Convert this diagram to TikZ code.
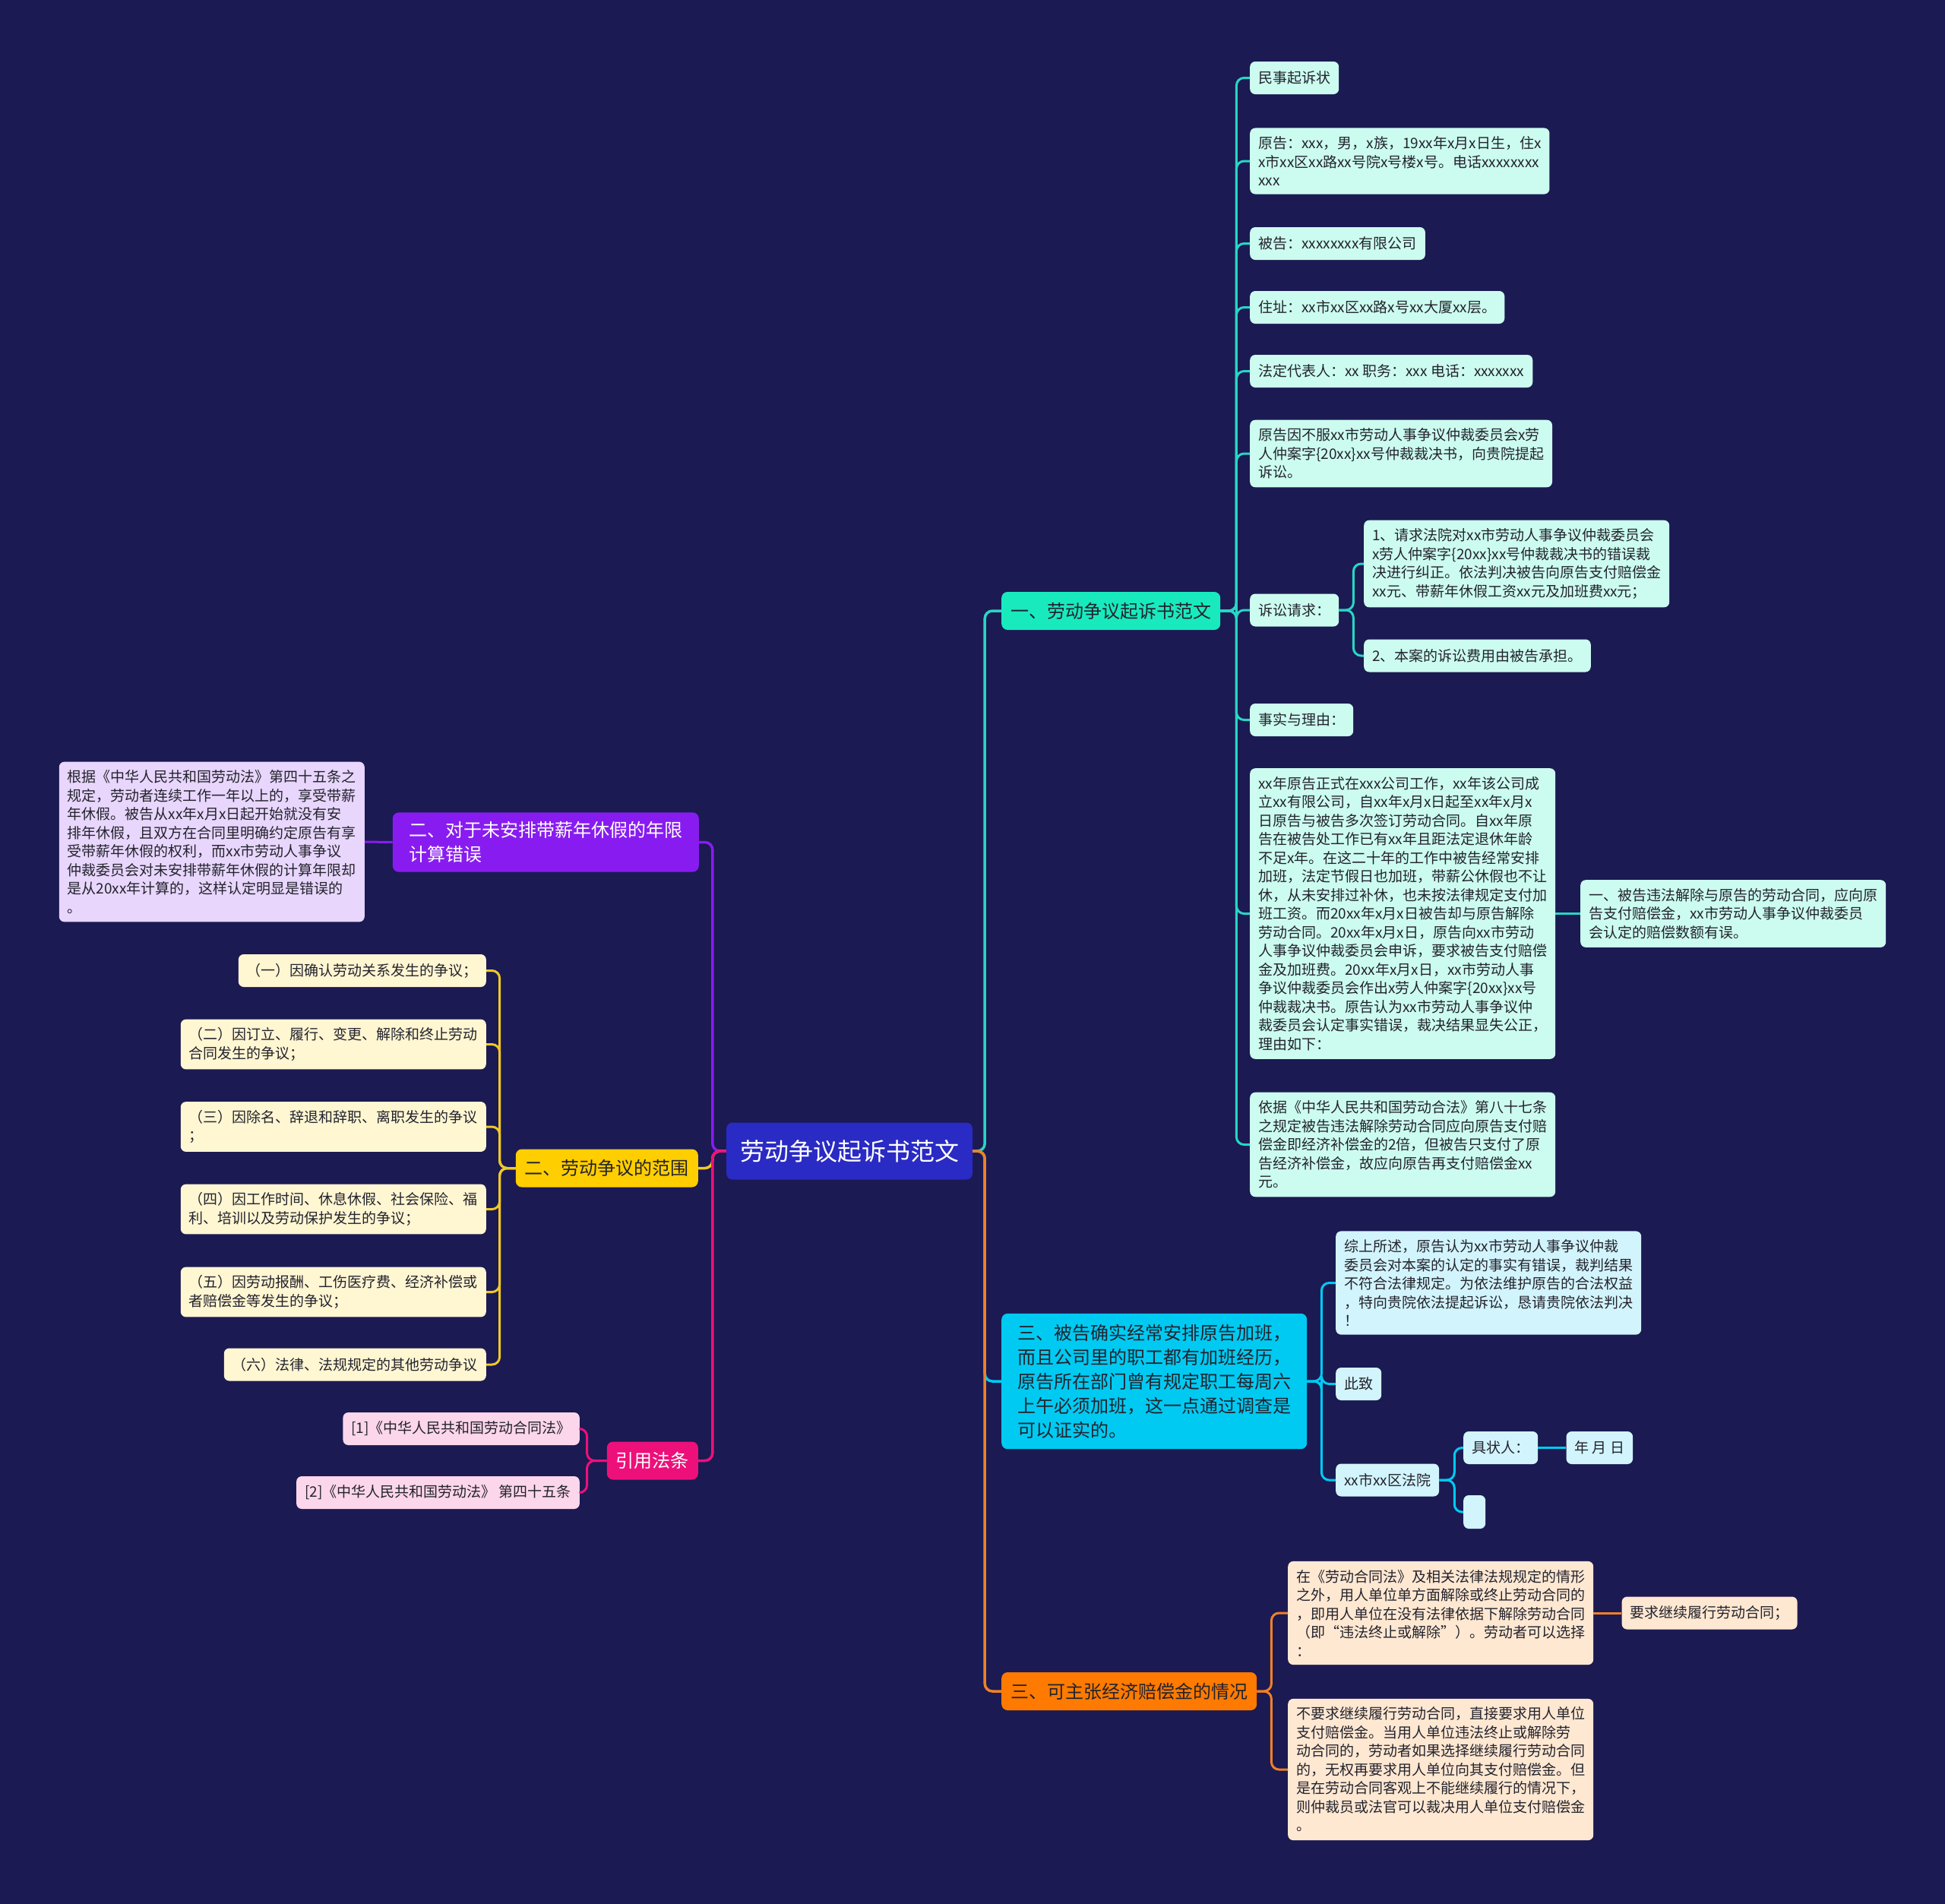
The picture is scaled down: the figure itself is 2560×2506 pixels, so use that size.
\documentclass[tikz,border=0pt]{standalone}
\usepackage{fontspec}
\setmainfont{Noto Sans CJK SC}
\usetikzlibrary{
  positioning,
  calc
}
\definecolor{lawNavy}{RGB}{27,26,82}
\definecolor{lawRoot}{RGB}{42,42,196}
\definecolor{lawInk}{RGB}{35,35,45}
\definecolor{lawTeal}{RGB}{24,234,190}
\definecolor{lawTealLine}{RGB}{40,214,196}
\definecolor{lawTealLight}{RGB}{204,252,240}
\definecolor{lawCyan}{RGB}{0,202,242}
\definecolor{lawCyanLight}{RGB}{210,244,252}
\definecolor{lawOrange}{RGB}{255,122,0}
\definecolor{lawOrangeLine}{RGB}{240,128,40}
\definecolor{lawOrangeLight}{RGB}{255,232,210}
\definecolor{lawPurple}{RGB}{136,28,240}
\definecolor{lawPurpleLight}{RGB}{232,214,252}
\definecolor{lawYellow}{RGB}{255,206,0}
\definecolor{lawYellowLine}{RGB}{240,200,40}
\definecolor{lawYellowLight}{RGB}{255,246,210}
\definecolor{lawPink}{RGB}{238,16,122}
\definecolor{lawPinkLight}{RGB}{252,214,234}
\tikzset{
  mmroot/.style={
    fill=lawRoot,
    text=white,
    rounded corners=8pt,
    minimum height=75pt,
    inner xsep=18pt,
    font=\fontsize{32}{40}\selectfont
  },
  mmbranch/.style={
    rounded corners=8pt,
    align=left,
    minimum height=50pt,
    inner xsep=12pt,
    inner ysep=12pt,
    text=lawInk,
    font=\fontsize{24}{32}\selectfont
  },
  mmleaf/.style={
    rounded corners=7pt,
    align=left,
    minimum height=43pt,
    inner xsep=11pt,
    inner ysep=11pt,
    text=lawInk,
    font=\fontsize{19}{24.5}\selectfont
  },
  tealleaf/.style={mmleaf, fill=lawTealLight, anchor=west},
  cyanleaf/.style={mmleaf, fill=lawCyanLight, anchor=west},
  orangeleaf/.style={mmleaf, fill=lawOrangeLight, anchor=west},
  purpleleaf/.style={mmleaf, fill=lawPurpleLight, anchor=east},
  yellowleaf/.style={mmleaf, fill=lawYellowLight, anchor=east},
  pinkleaf/.style={mmleaf, fill=lawPinkLight, anchor=east},
  mmlink/.style={
    line width=3pt,
    rounded corners=10pt
  }
}
\begin{document}
\begin{tikzpicture}[x=1pt, y=-1pt]
  \fill[lawNavy] (0,0) rectangle (2560,2506);
  \useasboundingbox (0,0) rectangle (2560,2506);

  \node[mmroot] (root) at (1118,1515) {劳动争议起诉书范文};

  % right side
  \node[mmbranch, fill=lawTeal, anchor=west] (suit) at (1318,804) {一、劳动争议起诉书范文};
  \node[mmbranch, fill=lawCyan, anchor=west, minimum width=402pt, inner ysep=14pt] (overtime) at (1318,1818)
    {三、被告确实经常安排原告加班，\\而且公司里的职工都有加班经历，\\原告所在部门曾有规定职工每周六\\上午必须加班，这一点通过调查是\\可以证实的。};
  \node[mmbranch, fill=lawOrange, anchor=west] (compensation) at (1318,2226) {三、可主张经济赔偿金的情况};

  \node[tealleaf] (title) at (1645,102.5) {民事起诉状};
  \node[tealleaf] (plaintiff) at (1645,212)
    {原告：xxx，男，x族，19xx年x月x日生，住x\\x市xx区xx路xx号院x号楼x号。电话xxxxxxxx\\xxx};
  \node[tealleaf] (defendant) at (1645,320.5) {被告：xxxxxxxx有限公司};
  \node[tealleaf] (address) at (1645,404.5) {住址：xx市xx区xx路x号xx大厦xx层。};
  \node[tealleaf] (legalrep) at (1645,488.5) {法定代表人：xx 职务：xxx 电话：xxxxxxx};
  \node[tealleaf] (appeal) at (1645,597)
    {原告因不服xx市劳动人事争议仲裁委员会x劳\\人仲案字\{20xx\}xx号仲裁裁决书，向贵院提起\\诉讼。};
  \node[tealleaf] (claims) at (1645,803) {诉讼请求：};
  \node[tealleaf] (claimone) at (1795,742)
    {1、请求法院对xx市劳动人事争议仲裁委员会\\x劳人仲案字\{20xx\}xx号仲裁裁决书的错误裁\\决进行纠正。依法判决被告向原告支付赔偿金\\xx元、带薪年休假工资xx元及加班费xx元；};
  \node[tealleaf] (claimtwo) at (1795,863) {2、本案的诉讼费用由被告承担。};
  \node[tealleaf] (facts) at (1645,947.5) {事实与理由：};
  \node[tealleaf] (history) at (1645,1202.5)
    {xx年原告正式在xxx公司工作，xx年该公司成\\立xx有限公司，自xx年x月x日起至xx年x月x\\日原告与被告多次签订劳动合同。自xx年原\\告在被告处工作已有xx年且距法定退休年龄\\不足x年。在这二十年的工作中被告经常安排\\加班，法定节假日也加班，带薪公休假也不让\\休，从未安排过补休，也未按法律规定支付加\\班工资。而20xx年x月x日被告却与原告解除\\劳动合同。20xx年x月x日，原告向xx市劳动\\人事争议仲裁委员会申诉，要求被告支付赔偿\\金及加班费。20xx年x月x日，xx市劳动人事\\争议仲裁委员会作出x劳人仲案字\{20xx\}xx号\\仲裁裁决书。原告认为xx市劳动人事争议仲\\裁委员会认定事实错误，裁决结果显失公正，\\理由如下：};
  \node[tealleaf] (dismissal) at (2080,1202.5)
    {一、被告违法解除与原告的劳动合同，应向原\\告支付赔偿金，xx市劳动人事争议仲裁委员\\会认定的赔偿数额有误。};
  \node[tealleaf] (basis) at (1645,1506.5)
    {依据《中华人民共和国劳动合法》第八十七条\\之规定被告违法解除劳动合同应向原告支付赔\\偿金即经济补偿金的2倍，但被告只支付了原\\告经济补偿金，故应向原告再支付赔偿金xx\\元。};

  \node[cyanleaf] (summary) at (1758,1688.5)
    {综上所述，原告认为xx市劳动人事争议仲裁\\委员会对本案的认定的事实有错误，裁判结果\\不符合法律规定。为依法维护原告的合法权益\\，特向贵院依法提起诉讼，恳请贵院依法判决\\！};
  \node[cyanleaf] (regards) at (1758,1821.5) {此致};
  \node[cyanleaf] (court) at (1758,1948) {xx市xx区法院};
  \node[cyanleaf] (signer) at (1926,1905.5) {具状人：};
  \node[cyanleaf, right=37pt of signer] (date) {年 月 日};
  \node[cyanleaf, minimum width=29pt, minimum height=44pt, inner sep=0pt] (blank) at (1926,1990) {};

  \node[orangeleaf] (unlawful) at (1695,2123)
    {在《劳动合同法》及相关法律法规规定的情形\\之外，用人单位单方面解除或终止劳动合同的\\，即用人单位在没有法律依据下解除劳动合同\\（即“违法终止或解除”）。劳动者可以选择\\：};
  \node[orangeleaf, right=37pt of unlawful] (continue) {要求继续履行劳动合同；};
  \node[orangeleaf] (payout) at (1695,2329)
    {不要求继续履行劳动合同，直接要求用人单位\\支付赔偿金。当用人单位违法终止或解除劳\\动合同的，劳动者如果选择继续履行劳动合同\\的，无权再要求用人单位向其支付赔偿金。但\\是在劳动合同客观上不能继续履行的情况下，\\则仲裁员或法官可以裁决用人单位支付赔偿金\\。};

  % left side
  \node[mmbranch, fill=lawPurple, text=white, anchor=east, minimum width=403pt] (leave) at (920,1108.5)
    {二、对于未安排带薪年休假的年限\\计算错误};
  \node[mmbranch, fill=lawYellow, anchor=east] (scope) at (919,1537.5) {二、劳动争议的范围};
  \node[mmbranch, fill=lawPink, text=white, anchor=east] (statutes) at (919,1922.5) {引用法条};

  \node[purpleleaf] (leavetext) at (480,1108)
    {根据《中华人民共和国劳动法》第四十五条之\\规定，劳动者连续工作一年以上的，享受带薪\\年休假。被告从xx年x月x日起开始就没有安\\排年休假，且双方在合同里明确约定原告有享\\受带薪年休假的权利，而xx市劳动人事争议\\仲裁委员会对未安排带薪年休假的计算年限却\\是从20xx年计算的，这样认定明显是错误的\\。};

  \node[yellowleaf] (scopeone) at (640,1277.5) {（一）因确认劳动关系发生的争议；};
  \node[yellowleaf] (scopetwo) at (640,1374.5) {（二）因订立、履行、变更、解除和终止劳动\\合同发生的争议；};
  \node[yellowleaf] (scopethree) at (640,1483) {（三）因除名、辞退和辞职、离职发生的争议\\；};
  \node[yellowleaf] (scopefour) at (640,1591.5) {（四）因工作时间、休息休假、社会保险、福\\利、培训以及劳动保护发生的争议；};
  \node[yellowleaf] (scopefive) at (640,1700.5) {（五）因劳动报酬、工伤医疗费、经济补偿或\\者赔偿金等发生的争议；};
  \node[yellowleaf] (scopesix) at (640,1796) {（六）法律、法规规定的其他劳动争议};

  \node[pinkleaf] (lawone) at (763,1880.5) {[1]《中华人民共和国劳动合同法》};
  \node[pinkleaf] (lawtwo) at (763,1964.5) {[2]《中华人民共和国劳动法》 第四十五条};

  % connectors
  \draw[mmlink, line width=3.5pt, lawTealLine] (root.east) -- ++(16,0) |- (suit.west);
  \draw[mmlink, line width=3.5pt, lawCyan] (root.east) -- ++(16,0) |- (overtime.west);
  \draw[mmlink, line width=3.5pt, lawOrangeLine] (root.east) -- ++(16,0) |- (compensation.west);
  \draw[mmlink, line width=3.5pt, lawPurple] (root.west) -- ++(-18,0) |- (leave.east);
  \draw[mmlink, line width=3.5pt, lawYellowLine] (root.west) -- ++(-18,0) |- (scope.east);
  \draw[mmlink, line width=3.5pt, lawPink] (root.west) -- ++(-18,0) |- (statutes.east);

  \draw[mmlink, lawTealLine] (suit.east) -- ++(21,0) |- (title.west);
  \draw[mmlink, lawTealLine] (suit.east) -- ++(21,0) |- (plaintiff.west);
  \draw[mmlink, lawTealLine] (suit.east) -- ++(21,0) |- (defendant.west);
  \draw[mmlink, lawTealLine] (suit.east) -- ++(21,0) |- (address.west);
  \draw[mmlink, lawTealLine] (suit.east) -- ++(21,0) |- (legalrep.west);
  \draw[mmlink, lawTealLine] (suit.east) -- ++(21,0) |- (appeal.west);
  \draw[mmlink, lawTealLine] (suit.east) -- ++(21,0) |- (claims.west);
  \draw[mmlink, lawTealLine] (suit.east) -- ++(21,0) |- (facts.west);
  \draw[mmlink, lawTealLine] (suit.east) -- ++(21,0) |- (history.west);
  \draw[mmlink, lawTealLine] (suit.east) -- ++(21,0) |- (basis.west);
  \draw[mmlink, lawTealLine] (claims.east) -- ++(19,0) |- (claimone.west);
  \draw[mmlink, lawTealLine] (claims.east) -- ++(19,0) |- (claimtwo.west);
  \draw[mmlink, lawTealLine] (history.east) -- (dismissal.west);

  \draw[mmlink, lawCyan] (overtime.east) -- ++(19,0) |- (summary.west);
  \draw[mmlink, lawCyan] (overtime.east) -- ++(19,0) |- (regards.west);
  \draw[mmlink, lawCyan] (overtime.east) -- ++(19,0) |- (court.west);
  \draw[mmlink, lawCyan] (court.east) -- ++(20,0) |- (signer.west);
  \draw[mmlink, lawCyan] (court.east) -- ++(20,0) |- (blank.west);
  \draw[mmlink, lawCyan] (signer.east) -- (date.west);

  \draw[mmlink, lawOrangeLine] (compensation.east) -- ++(19,0) |- (unlawful.west);
  \draw[mmlink, lawOrangeLine] (compensation.east) -- ++(19,0) |- (payout.west);
  \draw[mmlink, lawOrangeLine] (unlawful.east) -- (continue.west);

  \draw[mmlink, lawPurple] (leave.west) -- (leavetext.east);
  \draw[mmlink, lawYellowLine] (scope.west) -- ++(-21,0) |- (scopeone.east);
  \draw[mmlink, lawYellowLine] (scope.west) -- ++(-21,0) |- (scopetwo.east);
  \draw[mmlink, lawYellowLine] (scope.west) -- ++(-21,0) |- (scopethree.east);
  \draw[mmlink, lawYellowLine] (scope.west) -- ++(-21,0) |- (scopefour.east);
  \draw[mmlink, lawYellowLine] (scope.west) -- ++(-21,0) |- (scopefive.east);
  \draw[mmlink, lawYellowLine] (scope.west) -- ++(-21,0) |- (scopesix.east);
  \draw[mmlink, lawPink] (statutes.west) -- ++(-26,0) |- (lawone.east);
  \draw[mmlink, lawPink] (statutes.west) -- ++(-26,0) |- (lawtwo.east);
\end{tikzpicture}
\end{document}
